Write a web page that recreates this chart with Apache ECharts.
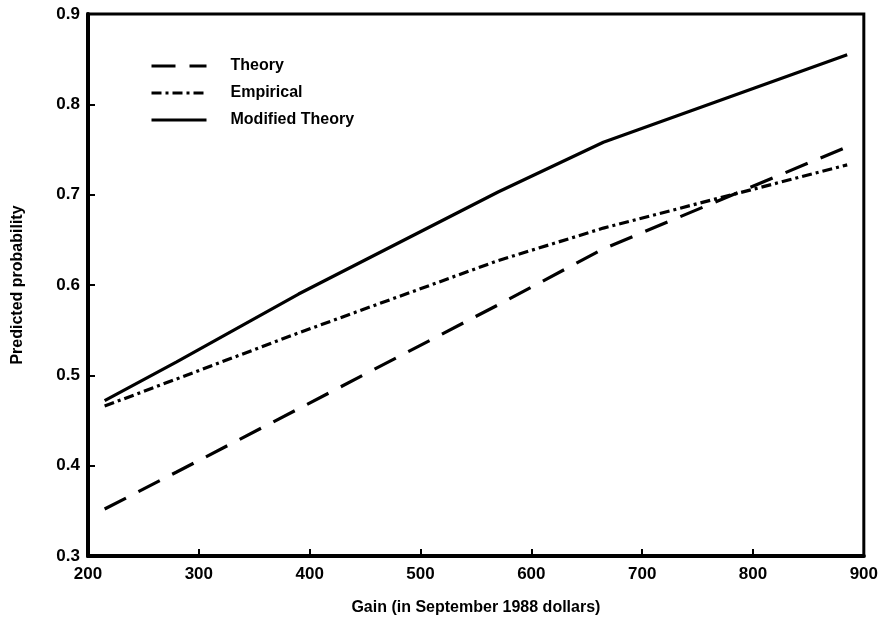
<!DOCTYPE html>
<html>
<head>
<meta charset="utf-8">
<script src="https://cdn.jsdelivr.net/npm/echarts@6/dist/echarts.min.js"></script>
<style>
  html, body { margin: 0; padding: 0; background: #fff; }
  #chart { width: 881px; height: 629px; }
</style>
</head>
<body>
<div id="chart"></div>
<script>
// gain values (September 1988 dollars) where the curves were read
var gains = [215, 280, 390, 570, 665, 885]
// predicted probability per curve
var theory = [0.352, 0.393, 0.463, 0.578, 0.640, 0.753]
var empirical = [0.466, 0.496, 0.547, 0.627, 0.663, 0.733]
var modifiedTheory = [0.472, 0.515, 0.590, 0.703, 0.758, 0.855]

var FONT = 'Liberation Sans'

function pairs (ys) {
  return gains.map(function (g, i) { return [g, ys[i]] })
}

function lineSeries (name, ys, type) {
  return {
    name: name,
    type: 'line',
    data: pairs(ys),
    symbol: 'none',
    smooth: false,
    lineStyle: { color: '#000', width: 3.2, type: type },
    itemStyle: { color: '#000' },
    emphasis: { disabled: true }
  }
}

var chart = echarts.init(document.getElementById('chart'))
chart.setOption({
  animation: false,
  backgroundColor: '#fff',
  grid: {
    left: 88,
    right: 15,
    top: 14,
    bottom: 73,
    show: true,
    borderColor: '#000',
    borderWidth: 3
  },
  legend: {
    orient: 'vertical',
    left: 145,
    top: 53,
    itemWidth: 55,
    itemHeight: 14,
    itemGap: 11,
    itemStyle: { opacity: 0 },
    lineStyle: { width: 3 },
    textStyle: {
      fontFamily: FONT,
      fontWeight: 'bold',
      fontSize: 16,
      color: '#000',
      padding: [0, 0, 0, 19]
    },
    data: ['Theory', 'Empirical', 'Modified Theory']
  },
  xAxis: {
    type: 'value',
    min: 200,
    max: 900,
    interval: 100,
    name: 'Gain (in September 1988 dollars)',
    nameLocation: 'middle',
    nameGap: 44,
    nameTextStyle: { fontFamily: FONT, fontWeight: 'bold', fontSize: 16, color: '#000' },
    axisLine: { lineStyle: { color: '#000', width: 4 } },
    axisTick: { inside: true, length: 7, lineStyle: { color: '#000', width: 2 } },
    axisLabel: { margin: 10, fontFamily: FONT, fontWeight: 'bold', fontSize: 17, color: '#000' },
    splitLine: { show: false }
  },
  yAxis: {
    type: 'value',
    min: 0.3,
    max: 0.9,
    interval: 0.1,
    name: 'Predicted probability',
    nameLocation: 'middle',
    nameGap: 62,
    nameTextStyle: { fontFamily: FONT, fontWeight: 'bold', fontSize: 16, color: '#000' },
    axisLine: { show: true, lineStyle: { color: '#000', width: 4 } },
    axisTick: { show: true, inside: true, length: 7, lineStyle: { color: '#000', width: 2 } },
    axisLabel: {
      margin: 8,
      fontFamily: FONT,
      fontWeight: 'bold',
      fontSize: 17,
      color: '#000',
      formatter: function (v) { return v.toFixed(1) }
    },
    splitLine: { show: false }
  },
  series: [
    lineSeries('Theory', theory, [24, 14]),
    lineSeries('Empirical', empirical, [10, 4, 3, 4]),
    lineSeries('Modified Theory', modifiedTheory, 'solid')
  ]
})
</script>
</body>
</html>
